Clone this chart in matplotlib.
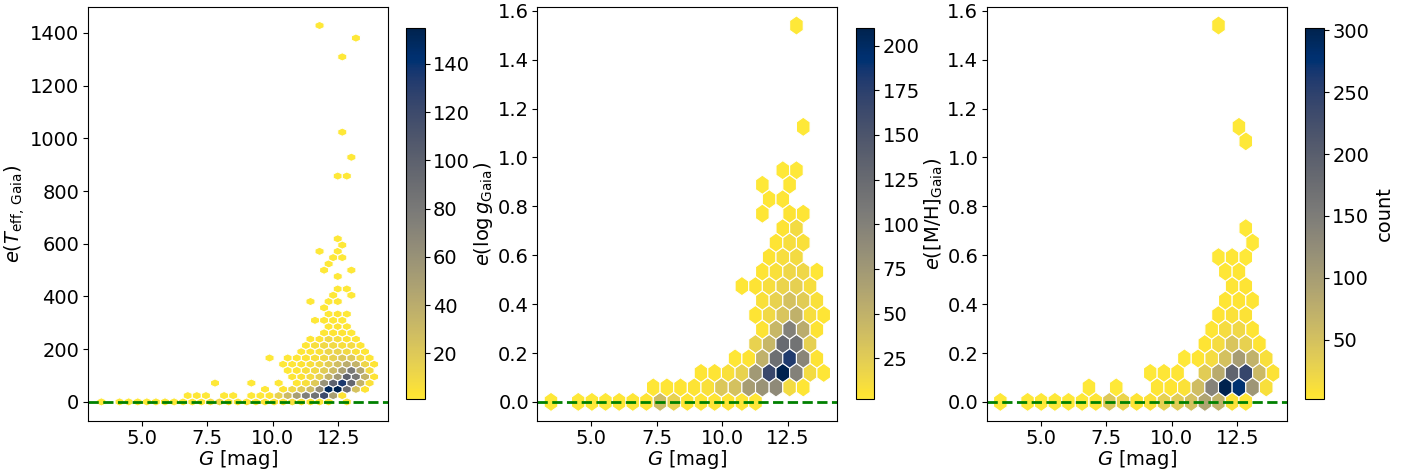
import numpy as np
import matplotlib.pyplot as plt

# hex cells: one list per error level,
# G magnitudes of the filled cells and the star count in each

# e(Teff) panel
teff_err = [0, 24, 48, 71, 95, 119, 143, 167, 190, 214, 238, 262, 286, 309, 333,
            357, 381, 405, 428, 476, 500, 524, 547, 571, 595, 619, 857, 928, 1023,
            1309, 1380, 1428]
teff_g = [
    [3.46, 4.15, 4.50, 4.85, 5.19, 5.54, 5.89, 6.23, 6.58, 6.93, 7.27, 7.62, 7.97,
     8.31, 8.66, 9.01, 9.35, 9.70, 10.05, 10.39, 10.74, 11.09, 11.43, 11.78, 12.13, 12.82],
    [6.75, 7.10, 7.45, 8.14, 8.49, 9.18, 9.53, 9.87, 10.22, 10.57, 10.91, 11.26, 11.61,
     11.95, 12.30, 12.65],
    [9.70, 10.39, 10.74, 11.09, 11.43, 11.78, 12.13, 12.47, 12.82, 13.17, 13.51],
    [7.79, 9.18, 10.22, 10.91, 11.26, 11.61, 11.95, 12.30, 12.65, 12.99, 13.34, 13.69],
    [10.74, 11.09, 11.43, 11.78, 12.13, 12.47, 12.82, 13.17, 13.51, 13.86],
    [10.57, 10.91, 11.26, 11.61, 11.95, 12.30, 12.65, 12.99, 13.34, 13.69],
    [10.39, 10.74, 11.09, 11.43, 11.78, 12.13, 12.47, 12.82, 13.17, 13.51, 13.86],
    [9.87, 10.57, 10.91, 11.26, 11.61, 11.95, 12.30, 12.65, 12.99, 13.34, 13.69],
    [11.09, 11.43, 11.78, 12.13, 12.47, 12.82, 13.17, 13.51],
    [11.26, 11.61, 11.95, 12.30, 12.65, 12.99, 13.34],
    [11.43, 11.78, 12.13, 12.47, 12.82, 13.17],
    [11.95, 12.30, 12.65, 12.99],
    [12.13, 12.47, 12.82],
    [11.61, 11.95, 12.30, 12.65],
    [12.13, 12.47, 12.82],
    [11.95],
    [11.43, 12.13, 12.47],
    [12.30, 12.99],
    [12.47, 12.82],
    [12.47],
    [11.95, 12.99],
    [12.13],
    [12.30, 12.65],
    [11.78, 12.47],
    [12.65],
    [12.47],
    [12.47, 12.82],
    [12.99],
    [12.65],
    [12.65],
    [13.17],
    [11.78],
]
teff_n = [
    [1, 1, 1, 1, 1, 1, 2, 1, 2, 2, 2, 8, 10, 3, 2, 3, 2, 3, 4, 5, 6, 4, 3, 2, 2, 1],
    [1, 2, 1, 1, 1, 1, 1, 3, 15, 30, 50, 75, 85, 120, 50, 4],
    [1, 4, 10, 18, 30, 65, 150, 155, 90, 25, 3],
    [1, 1, 1, 2, 6, 20, 60, 100, 135, 95, 35, 5],
    [2, 4, 8, 15, 35, 55, 100, 80, 35, 4],
    [1, 3, 6, 10, 18, 30, 50, 80, 45, 8],
    [1, 2, 4, 6, 10, 18, 28, 40, 35, 12, 3],
    [1, 1, 2, 4, 6, 10, 15, 22, 20, 8, 2],
    [2, 3, 5, 12, 14, 10, 5, 2],
    [2, 6, 10, 9, 6, 8, 2],
    [2, 3, 10, 7, 3, 2],
    [2, 3, 3, 1],
    [2, 4, 2],
    [1, 2, 2, 1],
    [1, 3, 1],
    [1],
    [1, 1, 2],
    [1, 1],
    [1, 1],
    [1],
    [1, 1],
    [1],
    [1, 1],
    [1, 1],
    [1],
    [1],
    [1, 1],
    [1],
    [1],
    [1],
    [1],
    [1],
]

# e(log g) panel
logg_err = [0.0, 0.059, 0.118, 0.178, 0.237, 0.296, 0.355, 0.415, 0.474, 0.533,
            0.592, 0.652, 0.711, 0.770, 0.829, 0.888, 0.948, 1.125, 1.54]
logg_g = [
    [3.46, 4.50, 5.02, 5.54, 6.06, 6.58, 7.10, 7.62, 8.14, 8.66, 9.18, 9.70, 10.22,
     10.74, 11.26],
    [7.36, 7.88, 8.40, 8.92, 9.44, 9.96, 10.48, 11.00, 11.52, 12.04, 12.56, 13.08],
    [9.18, 9.70, 10.22, 10.74, 11.26, 11.78, 12.30, 12.82, 13.34, 13.86],
    [10.48, 11.00, 11.52, 12.04, 12.56, 13.08, 13.60],
    [11.26, 11.78, 12.30, 12.82, 13.34],
    [11.52, 12.04, 12.56, 13.08, 13.60],
    [11.26, 11.78, 12.30, 12.82, 13.34, 13.86],
    [11.52, 12.04, 12.56, 13.08, 13.60],
    [10.74, 11.26, 11.78, 12.30, 12.82, 13.34],
    [11.52, 12.04, 12.56, 13.08, 13.60],
    [11.78, 12.30, 12.82],
    [12.04, 12.56, 13.08],
    [12.30, 12.82],
    [11.52, 12.56, 13.08],
    [11.78, 12.30],
    [11.52, 12.56],
    [12.30, 12.82],
    [13.08],
    [12.82],
]
logg_n = [
    [2, 2, 2, 2, 3, 3, 5, 40, 20, 5, 4, 5, 5, 4, 3],
    [3, 4, 5, 6, 8, 30, 35, 70, 80, 90, 12, 4],
    [4, 5, 8, 20, 75, 165, 210, 100, 12, 3],
    [3, 6, 50, 120, 180, 95, 6],
    [20, 45, 125, 115, 22],
    [6, 45, 100, 55, 6],
    [5, 14, 32, 50, 10, 4],
    [8, 20, 35, 25, 8],
    [3, 6, 10, 18, 22, 10],
    [5, 8, 15, 15, 3],
    [6, 10, 12],
    [5, 10, 8],
    [6, 12],
    [3, 6, 4],
    [3, 4],
    [2, 3],
    [2, 2],
    [2],
    [2],
]

# e([M/H]) panel
mh_err = [0.0, 0.059, 0.118, 0.178, 0.237, 0.296, 0.355, 0.415, 0.474, 0.533,
          0.592, 0.652, 0.711, 1.066, 1.125, 1.54]
mh_g = [
    [3.46, 4.50, 5.02, 5.54, 6.06, 6.58, 7.10, 7.62, 8.14, 8.66, 9.18, 9.70, 10.22,
     10.74, 11.26, 11.78, 12.30, 12.82],
    [6.84, 7.88, 9.44, 9.96, 10.48, 11.00, 11.52, 12.04, 12.56, 13.08, 13.60],
    [9.18, 9.70, 10.22, 11.26, 11.78, 12.30, 12.82, 13.34, 13.86],
    [10.48, 11.00, 11.52, 12.04, 12.56, 13.08, 13.60],
    [11.26, 11.78, 12.30, 12.82, 13.34],
    [11.52, 12.04, 12.56, 13.08],
    [11.78, 12.30, 12.82],
    [12.04, 12.56, 13.08],
    [12.30, 12.82],
    [12.04, 12.56],
    [11.78, 12.30, 12.82],
    [13.08],
    [12.82],
    [12.82],
    [12.56],
    [11.78],
]
mh_n = [
    [2, 2, 2, 2, 2, 3, 5, 40, 25, 6, 10, 30, 35, 50, 90, 70, 10, 4],
    [2, 2, 5, 6, 10, 55, 140, 302, 275, 110, 12],
    [3, 4, 5, 35, 80, 190, 240, 60, 8],
    [3, 5, 15, 50, 100, 70, 12],
    [6, 15, 45, 30, 6],
    [5, 15, 20, 6],
    [6, 10, 8],
    [5, 6, 5],
    [5, 6],
    [4, 5],
    [3, 4, 3],
    [2],
    [3],
    [2],
    [2],
    [2],
]


def expand(levels, g_rows, n_rows):
    # one point per star so hexbin does the counting
    xs, ys = [], []
    for e, g_row, n_row in zip(levels, g_rows, n_rows):
        for g, n in zip(g_row, n_row):
            xs += [g] * n
            ys += [e] * n
    return np.array(xs), np.array(ys)


panels = [
    (teff_err, teff_g, teff_n, (30, 30), r'$e(T_{\rm eff,\,Gaia})$', (-71.4, 1499.4)),
    (logg_err, logg_g, logg_n, (20, 13), r'$e(\log g_{\rm Gaia})$', (-0.077, 1.617)),
    (mh_err, mh_g, mh_n, (20, 13), r'$e(\rm [M/H]_{Gaia})$', (-0.077, 1.617)),
]

fig = plt.figure(figsize=(14.13, 4.75), dpi=100)
ax_left = [0.0621, 0.3803, 0.6983]
cax_left = [0.2873, 0.6056, 0.9238]

for i, (err, g_rows, n_rows, grid, ylab, ylim) in enumerate(panels):
    ax = fig.add_axes([ax_left[i], 0.1143, 0.2123, 0.8716])
    cax = fig.add_axes([cax_left[i], 0.1594, 0.0132, 0.7823])
    x, y = expand(err, g_rows, n_rows)
    hb = ax.hexbin(x, y, gridsize=grid, cmap='cividis_r', mincnt=1,
                   edgecolors='white', linewidths=0.8)
    ax.axhline(0, color='green', ls='--', lw=2)
    ax.set_xlim(2.94, 14.38)
    ax.set_ylim(*ylim)
    ax.set_xlabel(r'$G$ [mag]', fontsize=14, labelpad=0)
    ax.set_ylabel(ylab, fontsize=14, labelpad=2)
    ax.tick_params(labelsize=14, pad=2.5)
    cb = fig.colorbar(hb, cax=cax)
    cb.ax.tick_params(labelsize=14, pad=2.5)
    if i == 2:
        cb.set_label('count', fontsize=14)

fig.savefig('out.png', dpi=100)
